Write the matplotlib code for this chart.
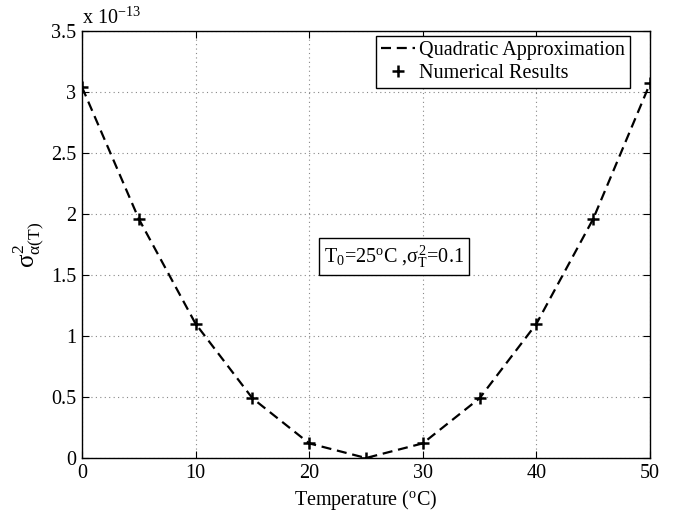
import matplotlib
matplotlib.use("Agg")
import matplotlib.pyplot as plt

plt.rcParams['font.family'] = ['Liberation Serif', 'DejaVu Serif']
plt.rcParams['mathtext.fontset'] = 'custom'
plt.rcParams['mathtext.rm'] = 'Liberation Serif'
plt.rcParams['mathtext.it'] = 'Liberation Serif'
plt.rcParams['mathtext.bf'] = 'Liberation Serif:bold'

# Data (values in units of 1e-13)
temperature = [0, 5, 10, 15, 20, 25, 30, 35, 40, 45, 50]
quadratic_approx = [3.04, 1.96, 1.10, 0.49, 0.12, 0.0, 0.12, 0.49, 1.10, 1.96, 3.07]
numerical_results = [3.04, 1.96, 1.10, 0.49, 0.12, 0.0, 0.12, 0.49, 1.10, 1.96, 3.07]
scale = 1e-13
x_ticks = [0, 10, 20, 30, 40, 50]
y_ticks = [0, 0.5, 1, 1.5, 2, 2.5, 3, 3.5]
y_tick_labels = ['0', '0.5', '1', '1.5', '2', '2.5', '3', '3.5']

fs = 14.5
fig = plt.figure(figsize=(6.85, 5.15), dpi=100)
ax = fig.add_axes([82/685, 1 - 458/515, 568/685, 427/515])

ax.plot(temperature, [v * scale for v in quadratic_approx], color='black',
        linestyle=(0, (4.5, 2.6)), linewidth=1.6, label='Quadratic Approximation')
ax.plot(temperature, [v * scale for v in numerical_results], linestyle='none',
        marker='+', markersize=8, markeredgewidth=1.8, color='black',
        label='Numerical Results')

ax.set_xlim(0, 50)
ax.set_ylim(0, 3.5 * scale)
ax.set_xticks(x_ticks)
ax.set_yticks([t * scale for t in y_ticks])
ax.set_yticklabels(y_tick_labels)
ax.tick_params(direction='in', top=True, right=True, labelsize=fs, length=5, width=0.8, pad=4)
ax.grid(True, linestyle=(0, (1, 3)), color='#888888', linewidth=0.8)
for s in ax.spines.values():
    s.set_linewidth(1.0)

ax.set_xlabel(r'Temperature ($^{\mathrm{o}}$C)', fontsize=fs, labelpad=4)
ax.set_ylabel(r'$\sigma^2_{\alpha(T)}$', fontsize=18, labelpad=4)

ax.text(0.0, 1.005, r'x 10$^{-13}$', transform=ax.transAxes, fontsize=fs,
        ha='left', va='bottom')

ax.text(21.3, 1.65 * scale, r'T$_0$=25$^{\mathrm{o}}$C ,$\sigma^2_T$=0.1', fontsize=fs,
        ha='left', va='center',
        bbox=dict(boxstyle='square,pad=0.25', facecolor='white', edgecolor='black', linewidth=1.0))

leg = ax.legend(loc='upper right', bbox_to_anchor=(0.965, 0.988), fontsize=fs,
                frameon=True, fancybox=False, edgecolor='black', framealpha=1,
                handlelength=1.7, handletextpad=0.2, borderpad=0.25, labelspacing=0.2,
                borderaxespad=0)
leg.get_frame().set_linewidth(1.0)

fig.savefig('out.png', dpi=100)
